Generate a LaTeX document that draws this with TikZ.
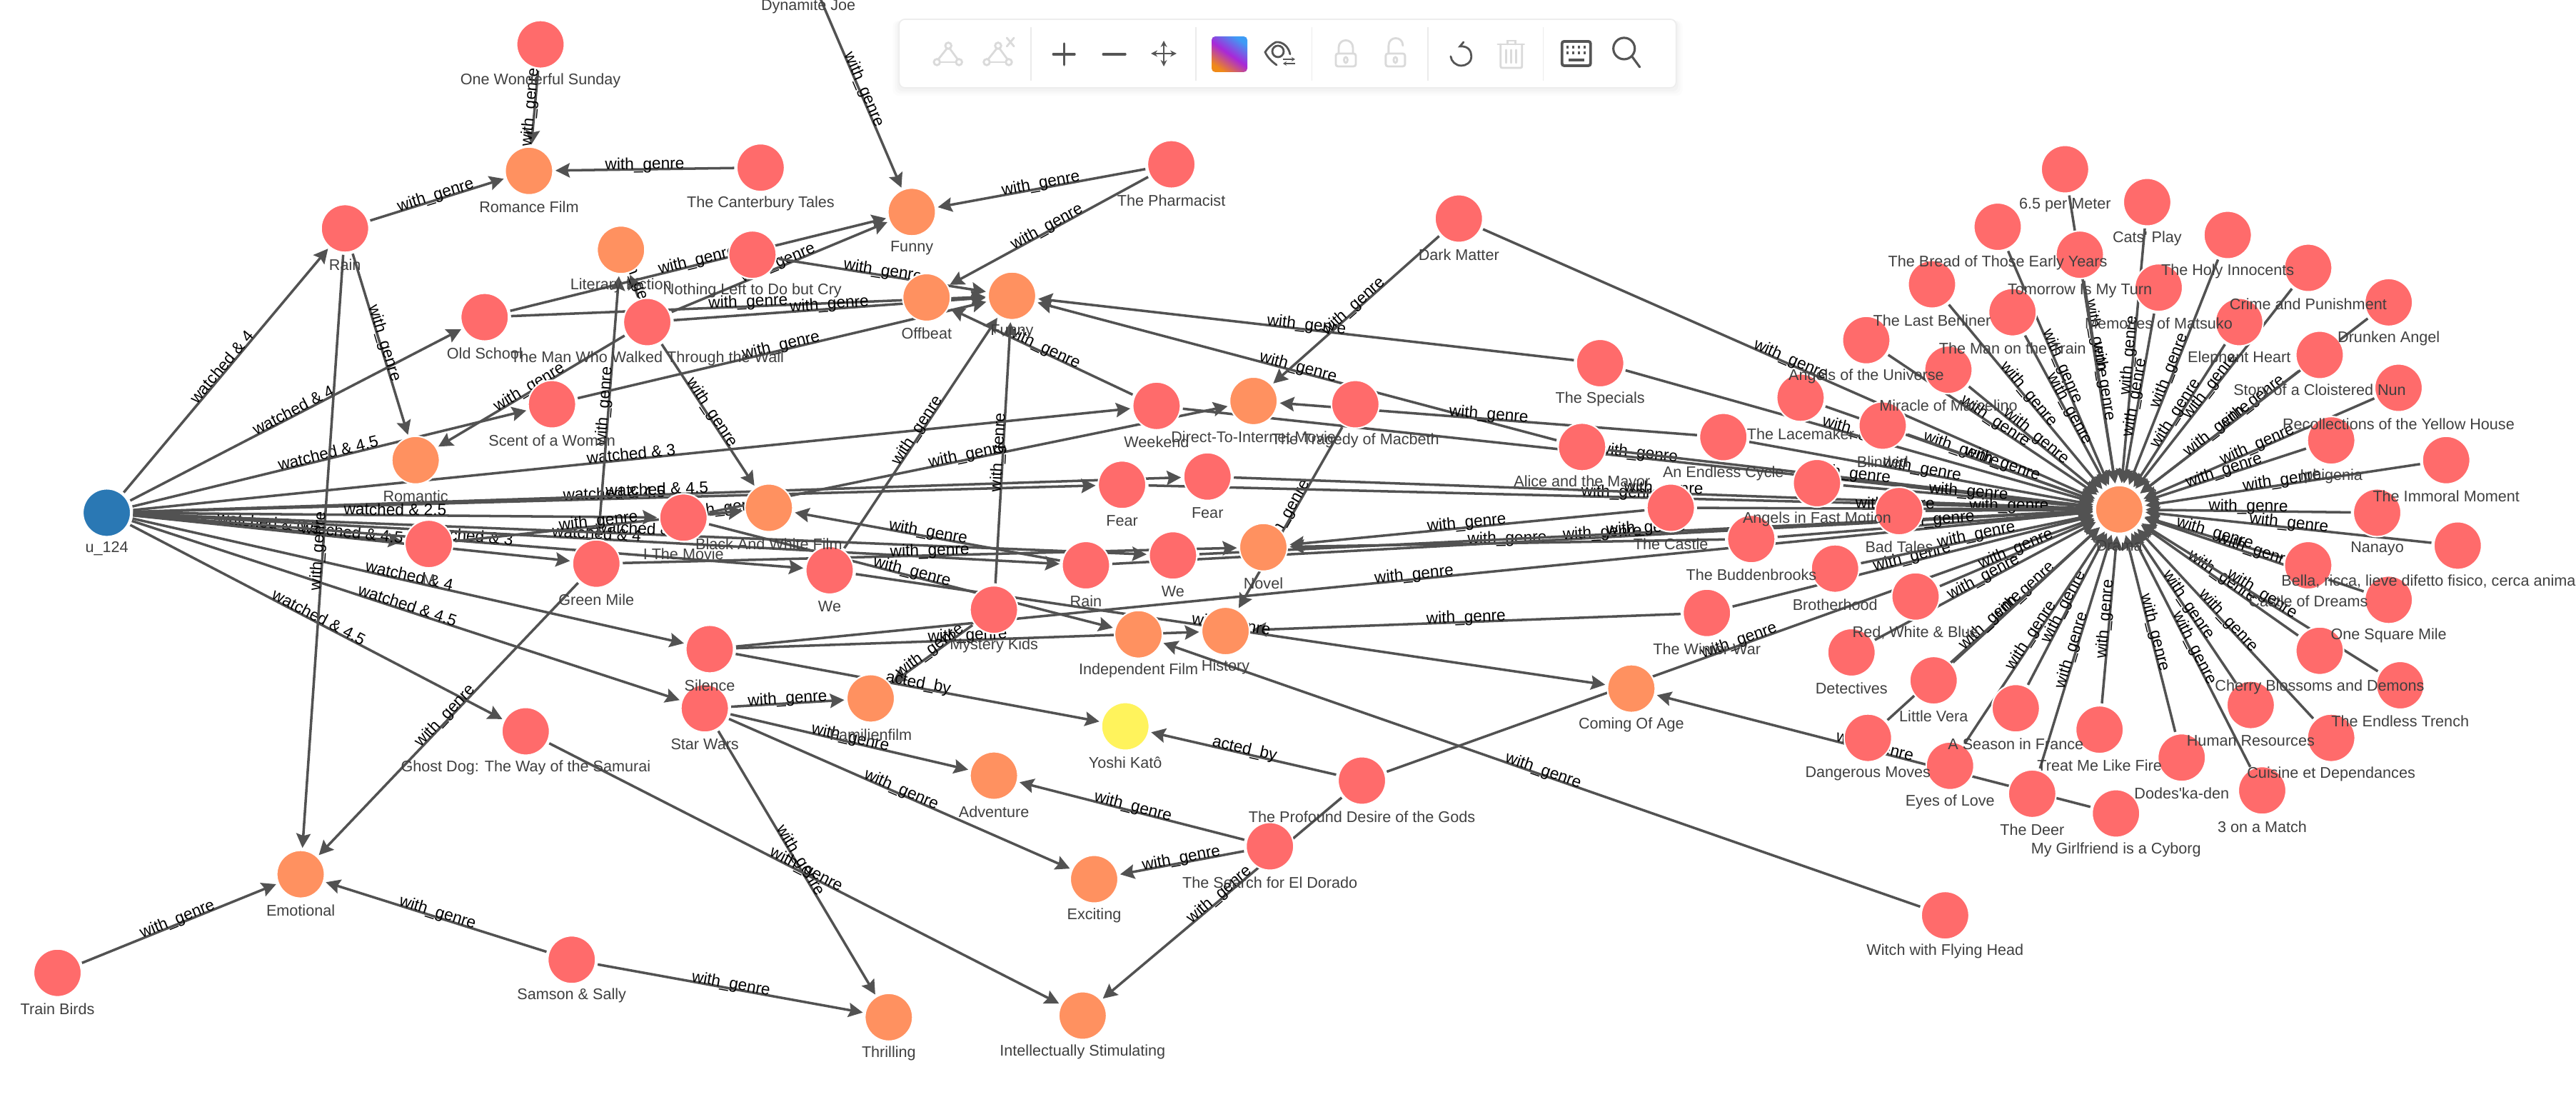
\documentclass[tikz,border=0pt]{standalone}
\usepackage{fontspec}
\usetikzlibrary{arrows.meta,calc,shapes.geometric}
\newfontfamily\gfont{Liberation Sans}
\pgfdeclarelayer{edgelayer}
\pgfdeclarelayer{labellayer}
\pgfsetlayers{edgelayer,main,labellayer}
\definecolor{movc}{HTML}{FF6B6B}
\definecolor{genc}{HTML}{FF9160}
\definecolor{usrc}{HTML}{2A78B4}
\definecolor{actc}{HTML}{FFF35C}
\definecolor{edgc}{HTML}{525252}
\definecolor{labc}{HTML}{3F3F3F}
\definecolor{icoc}{HTML}{555555}
\definecolor{disc}{HTML}{DADADA}
\definecolor{swpur}{HTML}{A828D8}
\definecolor{swblu}{HTML}{3E9BF5}
\definecolor{sworg}{HTML}{F08A18}
\tikzset{
  circ/.style={circle,draw=white,line width=0.6pt,minimum size=0.67cm,inner sep=0pt,outer sep=1pt},
  movn/.style={circ,fill=movc},
  genn/.style={circ,fill=genc},
  usrn/.style={circ,fill=usrc},
  actn/.style={circ,fill=actc},
  nlab/.style={inner sep=0pt,text=labc,font=\gfont\fontsize{6.15}{7}\selectfont},
  edge/.style={draw=edgc,line width=1pt,-{Stealth[length=0.2cm,width=0.2cm,inset=0.03cm]}},
  elab/.style={midway,sloped,anchor=base,inner sep=0pt,text=black,font=\gfont\fontsize{6.45}{7}\selectfont},
  ico/.style={draw=icoc,line width=0.8pt,line cap=round},
  dis/.style={draw=disc,line width=0.8pt,line cap=round},
  sepl/.style={draw=black!8,line width=0.4pt}
}
\newcommand{\NodeG}[5]{%
  \node[#1] (#2) at (#3,#4) {};
  \begin{pgfonlayer}{labellayer}
    \node[nlab] (#2-l) at ([yshift=-0.505cm]#2.center) {#5};
  \end{pgfonlayer}}
\newcommand{\EdgeL}[3]{\begin{pgfonlayer}{edgelayer}\draw[edge] (#1) -- node[elab] {#3} (#2);\end{pgfonlayer}}
\newcommand{\EdgeG}[2]{\EdgeL{#1}{#2}{with\_genre}}
\begin{document}
\begin{tikzpicture}
\useasboundingbox (0,0) rectangle (36.08,-15.36);
\begin{scope}[x=0.02301cm,y=-0.02301cm]
% user
\NodeG{usrn}{u}{65}{312}{u\_124}
% left movies and genres
\NodeG{movn}{ows}{329}{27}{One Wonderful Sunday}
\NodeG{genn}{romance}{322}{104}{Romance Film}
\NodeG{movn}{canter}{463}{102}{The Canterbury Tales}
\NodeG{movn}{rainA}{210}{139}{Rain}
\NodeG{movn}{joe}{492}{-18}{Dynamite Joe}
\NodeG{genn}{funny}{555}{129}{Funny}
\NodeG{movn}{pharm}{713}{100}{The Pharmacist}
\NodeG{genn}{lit}{378}{152}{Literary Fiction}
\NodeG{movn}{nothing}{458}{155}{Nothing Left to Do but Cry}
\NodeG{movn}{old}{295}{193}{Old School}
\NodeG{movn}{man}{394}{196}{The Man Who Walked Through the Wall}
\NodeG{genn}{offbeat}{564}{181}{Offbeat}
\NodeG{genn}{funnyB}{616}{180}{Funny}
\NodeG{movn}{dark}{888}{133}{Dark Matter}
\NodeG{movn}{specials}{974}{221}{The Specials}
\NodeG{movn}{scent}{336}{246}{Scent of a Woman}
\NodeG{genn}{romantic}{253}{280}{Romantic}
\NodeG{movn}{weekend}{704}{247}{Weekend}
\NodeG{genn}{direct}{763}{244}{Direct-To-Internet Movie}
\NodeG{movn}{tragedy}{825}{246}{The Tragedy of Macbeth}
\NodeG{movn}{alice}{963}{272}{Alice and the Mayor}
\NodeG{movn}{fearA}{683}{295}{Fear}
\NodeG{movn}{fearB}{735}{290}{Fear}
\NodeG{genn}{bw}{468}{309}{Black And White Film}
\NodeG{movn}{imovie}{416}{315}{I The Movie}
\NodeG{movn}{mm}{261}{331}{M}
\NodeG{movn}{green}{363}{343}{Green Mile}
\NodeG{movn}{weA}{505}{347}{We}
\NodeG{movn}{rainB}{661}{344}{Rain}
\NodeG{movn}{weB}{714}{338}{We}
\NodeG{genn}{novel}{769}{333}{Novel}
\NodeG{movn}{silence}{432}{395}{Silence}
\NodeG{movn}{star}{429}{431}{Star Wars}
\NodeG{movn}{mystery}{605}{371}{Mystery Kids}
\NodeG{genn}{indep}{693}{386}{Independent Film}
\NodeG{genn}{history}{746}{384}{History}
\NodeG{genn}{family}{530}{425}{Familienfilm}
\NodeG{actn}{yoshi}{685}{442}{Yoshi Katô}
\NodeG{movn}{ghost}{320}{445}{Ghost Dog: The Way of the Samurai}
\NodeG{genn}{adventure}{605}{472}{Adventure}
\NodeG{movn}{profound}{829}{475}{The Profound Desire of the Gods}
\NodeG{genn}{coming}{993}{419}{Coming Of Age}
\NodeG{movn}{search}{773}{515}{The Search for El Dorado}
\NodeG{genn}{exciting}{666}{535}{Exciting}
\NodeG{genn}{emotional}{183}{532}{Emotional}
\NodeG{movn}{samson}{348}{584}{Samson \& Sally}
\NodeG{movn}{train}{35}{592}{Train Birds}
\NodeG{genn}{thrilling}{541}{619}{Thrilling}
\NodeG{genn}{intel}{659}{618}{Intellectually Stimulating}
\NodeG{movn}{witch}{1184}{557}{Witch with Flying Head}
% Drama cluster
\NodeG{genn}{drama}{1290}{310}{Drama}
\NodeG{movn}{meter}{1257}{103}{6.5 per Meter}
\NodeG{movn}{cats}{1307}{123}{Cats' Play}
\NodeG{movn}{bread}{1216}{138}{The Bread of Those Early Years}
\NodeG{movn}{tomorrow}{1266}{155}{Tomorrow Is My Turn}
\NodeG{movn}{holy}{1356}{143}{The Holy Innocents}
\NodeG{movn}{crime}{1405}{163}{Crime and Punishment}
\NodeG{movn}{berliner}{1176}{173}{The Last Berliner}
\NodeG{movn}{matsuko}{1314}{175}{Memories of Matsuko}
\NodeG{movn}{ontrain}{1225}{190}{The Man on the Train}
\NodeG{movn}{drunken}{1454}{184}{Drunken Angel}
\NodeG{movn}{elephant}{1363}{196}{Elephant Heart}
\NodeG{movn}{universe}{1136}{207}{Angels of the Universe}
\NodeG{movn}{storm}{1412}{216}{Story of a Cloistered Nun}
\NodeG{movn}{marcelino}{1186}{225}{Miracle of Marcelino}
\NodeG{movn}{lacemaker}{1096}{242}{The Lacemaker}
\NodeG{movn}{yellow}{1460}{236}{Recollections of the Yellow House}
\NodeG{movn}{blinded}{1146}{259}{Blinded}
\NodeG{movn}{endless}{1049}{266}{An Endless Cycle}
\NodeG{movn}{iphigenia}{1419}{268}{Iphigenia}
\NodeG{movn}{immoral}{1489}{280}{The Immoral Moment}
\NodeG{movn}{fastmotion}{1106}{294}{Angels in Fast Motion}
\NodeG{movn}{badtales}{1156}{311}{Bad Tales}
\NodeG{movn}{castle}{1017}{309}{The Castle}
\NodeG{movn}{nanayo}{1447}{312}{Nanayo}
\NodeG{movn}{budden}{1066}{328}{The Buddenbrooks}
\NodeG{movn}{brother}{1117}{346}{Brotherhood}
\NodeG{movn}{redwhite}{1166}{363}{Red, White \& Blue}
\NodeG{movn}{winter}{1039}{373}{The Winter War}
\NodeG{movn}{bella}{1496}{332}{Bella, ricca, lieve difetto fisico, cerca anima gemella}
\NodeG{movn}{dreams}{1405}{344}{Castle of Dreams}
\NodeG{movn}{square}{1454}{365}{One Square Mile}
\NodeG{movn}{cherry}{1412}{396}{Cherry Blossoms and Demons}
\NodeG{movn}{trench}{1461}{417}{The Endless Trench}
\NodeG{movn}{human}{1370}{429}{Human Resources}
\NodeG{movn}{cuisine}{1419}{449}{Cuisine et Dependances}
\NodeG{movn}{detect}{1127}{397}{Detectives}
\NodeG{movn}{vera}{1177}{414}{Little Vera}
\NodeG{movn}{france}{1227}{431}{A Season in France}
\NodeG{movn}{danger}{1137}{449}{Dangerous Moves}
\NodeG{movn}{fire}{1278}{444}{Treat Me Like Fire}
\NodeG{movn}{eyes}{1187}{466}{Eyes of Love}
\NodeG{movn}{dodes}{1328}{461}{Dodes'ka-den}
\NodeG{movn}{deer}{1237}{483}{The Deer}
\NodeG{movn}{cyborg}{1288}{495}{My Girlfriend is a Cyborg}
\NodeG{movn}{match}{1377}{481}{3 on a Match}
% watched edges
\EdgeL{u}{rainA}{watched \& 4}
\EdgeL{u}{old}{watched \& 4}
\EdgeL{u}{scent}{watched \& 4.5}
\EdgeL{u}{weekend}{watched \& 3}
\EdgeL{u}{fearA}{watched \& 4.5}
\EdgeL{u}{fearB}{watched \& 4.5}
\EdgeL{u}{imovie}{watched \& 2.5}
\EdgeL{u}{mm}{watched \& 0.5}
\EdgeL{u}{green}{watched \& 4.5}
\EdgeL{u}{weA}{watched \& 3}
\EdgeL{u}{rainB}{watched \& 4}
\EdgeL{u}{weB}{watched \& 4}
\EdgeL{u}{silence}{watched \& 4}
\EdgeL{u}{star}{watched \& 4.5}
\EdgeL{u}{ghost}{watched \& 4.5}
% genre edges
\EdgeG{ows}{romance}
\EdgeG{canter}{romance}
\EdgeG{rainA}{romance}
\EdgeG{rainA}{romantic}
\EdgeG{rainA}{emotional}
\EdgeG{joe}{funny}
\EdgeG{pharm}{funny}
\EdgeG{pharm}{offbeat}
\EdgeG{old}{funny}
\EdgeG{old}{funnyB}
\EdgeG{man}{funny}
\EdgeG{man}{funnyB}
\EdgeG{nothing}{funnyB}
\EdgeG{scent}{funnyB}
\EdgeG{weekend}{offbeat}
\EdgeG{specials}{funnyB}
\EdgeG{alice}{funnyB}
\EdgeG{man}{romantic}
\EdgeG{man}{lit}
\EdgeG{green}{lit}
\EdgeG{man}{bw}
\EdgeG{imovie}{bw}
\EdgeG{mm}{bw}
\EdgeG{rainB}{bw}
\EdgeG{imovie}{direct}
\EdgeG{dark}{direct}
\EdgeG{endless}{direct}
\EdgeG{tragedy}{history}
\EdgeG{castle}{novel}
\EdgeG{budden}{novel}
\EdgeG{green}{novel}
\EdgeG{silence}{history}
\EdgeG{winter}{history}
\EdgeG{weA}{funnyB}
\EdgeG{mystery}{funnyB}
\EdgeG{mystery}{family}
\EdgeG{weA}{coming}
\EdgeG{imovie}{indep}
\EdgeG{witch}{indep}
\EdgeG{cyborg}{coming}
\EdgeG{star}{family}
\EdgeG{star}{adventure}
\EdgeG{star}{exciting}
\EdgeG{star}{thrilling}
\EdgeG{ghost}{intel}
\EdgeG{samson}{thrilling}
\EdgeG{samson}{emotional}
\EdgeG{train}{emotional}
\EdgeG{green}{emotional}
\EdgeG{search}{adventure}
\EdgeG{search}{exciting}
\EdgeG{profound}{intel}
\EdgeL{silence}{yoshi}{acted\_by}
\EdgeL{profound}{yoshi}{acted\_by}
\foreach \s in {weekend,specials,alice,dark,fearA,fearB,rainB,weB,silence,winter,profound,
  meter,cats,bread,tomorrow,holy,crime,berliner,matsuko,ontrain,drunken,elephant,universe,storm,
  marcelino,lacemaker,yellow,blinded,endless,iphigenia,immoral,fastmotion,badtales,castle,nanayo,
  budden,brother,redwhite,bella,dreams,square,cherry,trench,human,cuisine,detect,vera,france,
  danger,fire,eyes,dodes,deer,match}{\EdgeG{\s}{drama}}
\end{scope}
% toolbar, in reference pixels
\begin{pgfonlayer}{labellayer}
\begin{scope}[x=0.01cm,y=-0.01cm]
\foreach \d/\o in {9/0.012,6/0.016,3/0.02}{
  \fill[black,opacity=\o,rounded corners=0.08cm] (1260-\d,27+2) rectangle (2349+\d,123+\d+2);}
\fill[white,rounded corners=0.08cm] (1260,27) rectangle (2349,123);
\draw[black!7,line width=0.5pt,rounded corners=0.08cm] (1260,27) rectangle (2349,123);
\foreach \x in {1445,1676,1838.5,2001,2163}{\draw[sepl] (\x,38) -- (\x,113);}
% add-edge icons
\foreach \dx in {0,69.8}{
  \begin{scope}[xshift=\dx*0.01cm]
  \draw[dis] (1329,64) circle[radius=4.3];
  \draw[dis] (1313,87) circle[radius=4.3];
  \draw[dis] (1344,87) circle[radius=4.3];
  \draw[dis] (1327,68) -- (1315,83);
  \draw[dis] (1331,68) -- (1342,83);
  \draw[dis] (1318,87) -- (1339,87);
  \end{scope}}
\draw[dis] (1411,53) -- (1421,65);
\draw[dis] (1421,53) -- (1411,65);
% plus minus move
\draw[ico,line width=0.9pt] (1476,76) -- (1506,76);
\draw[ico,line width=0.9pt] (1491,61) -- (1491,91);
\draw[ico,line width=0.9pt] (1546,76) -- (1577,76);
\draw[icoc,line width=0.8pt,{Stealth[length=0.09cm,width=0.09cm]}-{Stealth[length=0.09cm,width=0.09cm]}] (1613,75) -- (1649,75);
\draw[icoc,line width=0.8pt,{Stealth[length=0.09cm,width=0.09cm]}-{Stealth[length=0.09cm,width=0.09cm]}] (1631,57) -- (1631,93);
% colour swatch
\shade[rounded corners=0.05cm,shading=axis,top color=swblu,bottom color=sworg,middle color=swpur,shading angle=-35]
  (1698,51) rectangle (1748,101);
% eye
\draw[ico] (1788,59) .. controls (1782,62) and (1776,68) .. (1773,73) .. controls (1776,80) and (1782,86) .. (1789,91);
\draw[ico] (1788,59) .. controls (1798,58) and (1806,66) .. (1808,76);
\draw[ico] (1791,72) circle[radius=8];
\draw[icoc,line width=0.7pt,-{Stealth[length=0.05cm,width=0.06cm]}] (1798,83) -- (1815,83);
\draw[icoc,line width=0.7pt,-{Stealth[length=0.05cm,width=0.06cm]}] (1815,89) -- (1798,89);
% locks
\draw[dis,rounded corners=0.03cm] (1872,75) rectangle (1900,93);
\draw[dis] (1876,75) -- (1876,67) .. controls (1876,53) and (1896,53) .. (1896,67) -- (1896,75);
\draw[dis] (1886,84) ellipse[x radius=2.5,y radius=4];
\draw[dis,rounded corners=0.03cm] (1942,75) rectangle (1969,93);
\draw[dis] (1946,75) -- (1946,64) .. controls (1946,50) and (1966,50) .. (1966,64);
\draw[dis] (1955.5,84) ellipse[x radius=2.5,y radius=4];
% undo
\draw[ico] (2051,59) -- (2046,65) .. controls (2058,64) and (2062,72) .. (2062,79) .. controls (2062,88) and (2054,92) .. (2048,92) .. controls (2040,92) and (2034,86) .. (2033,79);
% trash
\draw[dis] (2099,62) -- (2136,62);
\draw[dis] (2113,62) -- (2113,57) -- (2124,57) -- (2124,62);
\draw[dis,rounded corners=0.02cm] (2103,62) -- (2103,95) -- (2133,95) -- (2133,62);
\foreach \x in {2111,2118,2125}{\draw[dis] (\x,70) -- (\x,88);}
% keyboard
\draw[ico,line width=1.1pt,rounded corners=0.03cm] (2189,58) rectangle (2229,92);
\foreach \x in {2197,2205,2213,2221}{
  \fill[icoc] (\x-1.7,64) rectangle (\x+1.7,68);
  \fill[icoc] (\x-1.7,72.5) rectangle (\x+1.7,76.5);}
\fill[icoc] (2198,82) rectangle (2220,86);
% search
\draw[ico,line width=0.9pt] (2276,68) circle[radius=15];
\draw[ico,line width=0.9pt] (2287,79) -- (2298,94);
\end{scope}
\end{pgfonlayer}
\end{tikzpicture}
\end{document}
